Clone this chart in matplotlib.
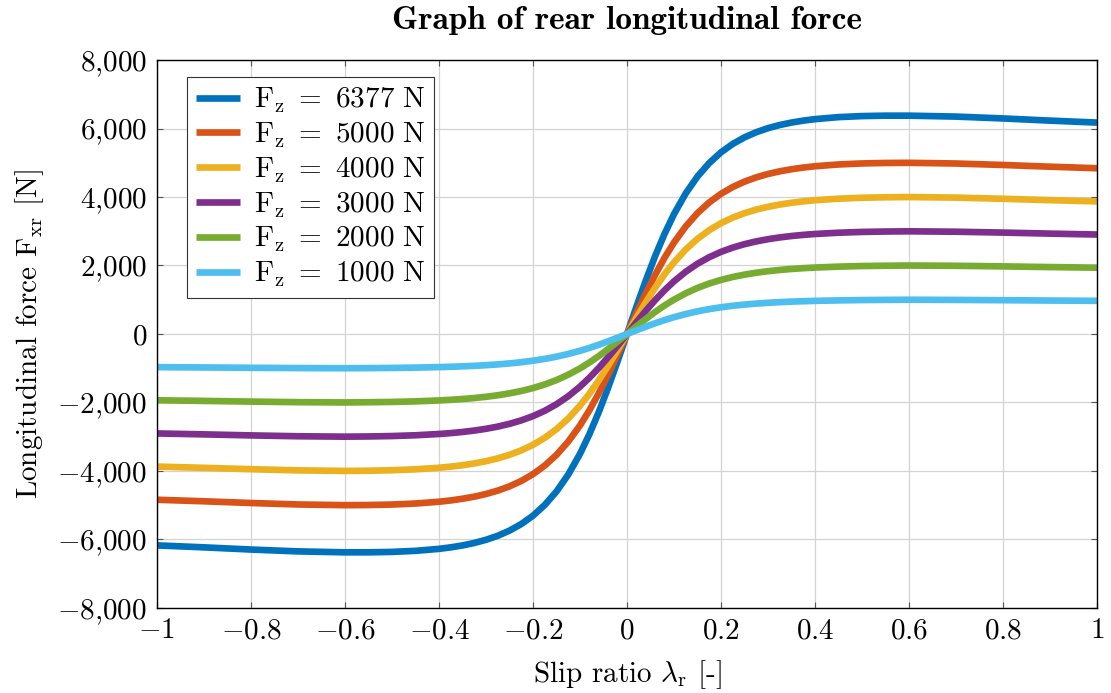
import matplotlib
matplotlib.use("Agg")
import matplotlib.pyplot as plt
from matplotlib.ticker import FuncFormatter, MultipleLocator

plt.rcParams["font.family"] = "cmr10"
plt.rcParams["mathtext.fontset"] = "cm"
plt.rcParams["axes.formatter.use_mathtext"] = True

# slip ratio samples
slip = [-1.0, -0.9, -0.8, -0.7, -0.6, -0.55, -0.5, -0.45, -0.4, -0.375, -0.35,
        -0.325, -0.3, -0.275, -0.25, -0.225, -0.2, -0.175, -0.15, -0.125, -0.1,
        -0.08, -0.06, -0.04, -0.02, 0.0,
        0.02, 0.04, 0.06, 0.08, 0.1, 0.125, 0.15, 0.175, 0.2, 0.225, 0.25,
        0.275, 0.3, 0.325, 0.35, 0.375, 0.4, 0.45, 0.5, 0.55, 0.6, 0.7, 0.8,
        0.9, 1.0]

# longitudinal force [N]
fx_6377 = [-6173, -6230, -6294, -6348, -6375, -6375, -6363, -6332, -6274, -6230, -6174,
           -6102, -6010, -5892, -5741, -5550, -5305, -4992, -4599, -4106, -3500,
           -2927, -2279, -1562, -795, 0,
           795, 1562, 2279, 2927, 3500, 4106, 4599, 4992, 5305, 5550, 5741,
           5892, 6010, 6102, 6174, 6230, 6274, 6332, 6363, 6375, 6375, 6348, 6294,
           6230, 6173]
fx_5000 = [-4840, -4885, -4935, -4978, -4998, -4994, -4980, -4950, -4898, -4860, -4811,
           -4750, -4672, -4574, -4449, -4292, -4093, -3842, -3530, -3142, -2670,
           -2228, -1731, -1185, -602, 0,
           602, 1185, 1731, 2228, 2670, 3142, 3530, 3842, 4093, 4292, 4449,
           4574, 4672, 4750, 4811, 4860, 4898, 4950, 4980, 4994, 4998, 4978, 4935,
           4885, 4840]
fx_4000 = [-3872, -3908, -3948, -3982, -3998, -3992, -3978, -3951, -3906, -3873, -3832,
           -3780, -3714, -3632, -3528, -3399, -3236, -3032, -2779, -2469, -2093,
           -1744, -1353, -925, -470, 0,
           470, 925, 1353, 1744, 2093, 2469, 2779, 3032, 3236, 3399, 3528,
           3632, 3714, 3780, 3832, 3873, 3906, 3951, 3978, 3992, 3998, 3982, 3948,
           3908, 3872]
fx_3000 = [-2904, -2931, -2961, -2986, -2998, -2992, -2980, -2957, -2920, -2894, -2861,
           -2820, -2768, -2704, -2623, -2523, -2398, -2243, -2051, -1818, -1538,
           -1279, -991, -676, -343, 0,
           343, 676, 991, 1279, 1538, 1818, 2051, 2243, 2398, 2523, 2623,
           2704, 2768, 2820, 2861, 2894, 2920, 2957, 2980, 2992, 2998, 2986, 2961,
           2931, 2904]
fx_2000 = [-1936, -1954, -1974, -1991, -1999, -1993, -1984, -1967, -1940, -1922, -1899,
           -1870, -1834, -1789, -1733, -1665, -1579, -1474, -1345, -1189, -1004,
           -833, -644, -439, -223, 0,
           223, 439, 644, 833, 1004, 1189, 1345, 1474, 1579, 1665, 1733,
           1789, 1834, 1870, 1899, 1922, 1940, 1967, 1984, 1993, 1999, 1991, 1974,
           1954, 1936]
fx_1000 = [-968, -977, -987, -995, -1000, -996, -991, -981, -967, -957, -945,
           -930, -911, -888, -859, -824, -780, -727, -662, -583, -491,
           -407, -314, -214, -108, 0,
           108, 214, 314, 407, 491, 583, 662, 727, 780, 824, 859,
           888, 911, 930, 945, 957, 967, 981, 991, 996, 1000, 995, 987,
           977, 968]

loads = ["6377", "5000", "4000", "3000", "2000", "1000"]
forces = [fx_6377, fx_5000, fx_4000, fx_3000, fx_2000, fx_1000]
colors = ["#0072BD", "#D95319", "#EDB120", "#7E2F8E", "#77AC30", "#4DBEEE"]

fig = plt.figure(figsize=(11.11, 6.93), dpi=100)
ax = fig.add_axes([0.1413, 0.1227, 0.8461, 0.7907])

for load, fx, c in zip(loads, forces, colors):
    ax.plot(slip, fx, color=c, linewidth=4.8, solid_capstyle="butt",
            solid_joinstyle="round",
            label=r"$\mathrm{F_z}\ =\ %s\ \mathrm{N}$" % load)

ax.set_xlim(-1, 1)
ax.set_ylim(-8000, 8000)
ax.xaxis.set_major_locator(MultipleLocator(0.2))
ax.yaxis.set_major_locator(MultipleLocator(2000))


def fmt_x(v, pos):
    if abs(v) < 1e-9:
        return "$0$"
    if abs(abs(v) - 1) < 1e-9:
        return "$%d$" % round(v)
    return "$%s$" % ("%.1f" % v)


def fmt_y(v, pos):
    s = "{:,.0f}".format(v).replace(",", "{,}")
    return "$%s$" % s


ax.xaxis.set_major_formatter(FuncFormatter(fmt_x))
ax.yaxis.set_major_formatter(FuncFormatter(fmt_y))

ax.grid(True, color="#d3d3d3", linewidth=0.9)
ax.set_axisbelow(True)
ax.tick_params(direction="in", length=4, width=0.8, color="#555555",
               labelsize=21, top=True, right=True, pad=7)
for sp in ax.spines.values():
    sp.set_linewidth(1.0)
    sp.set_color("black")

ax.set_title("Graph of rear longitudinal force", fontsize=24,
             fontfamily="cmb10", pad=22)
ax.set_xlabel(r"Slip ratio $\lambda_\mathrm{r}$ [-]", fontsize=21, labelpad=10)
ax.set_ylabel(r"Longitudinal force $\mathrm{F_{xr}}$ [N]", fontsize=21, labelpad=8)

leg = ax.legend(loc="upper left", bbox_to_anchor=(0.032, 0.969), borderaxespad=0,
                fontsize=21, handlelength=1.5, handletextpad=0.5,
                labelspacing=0.2, borderpad=0.3, fancybox=False,
                framealpha=1, edgecolor="#333333")
leg.get_frame().set_linewidth(0.8)

fig.savefig("out.png", dpi=100)
